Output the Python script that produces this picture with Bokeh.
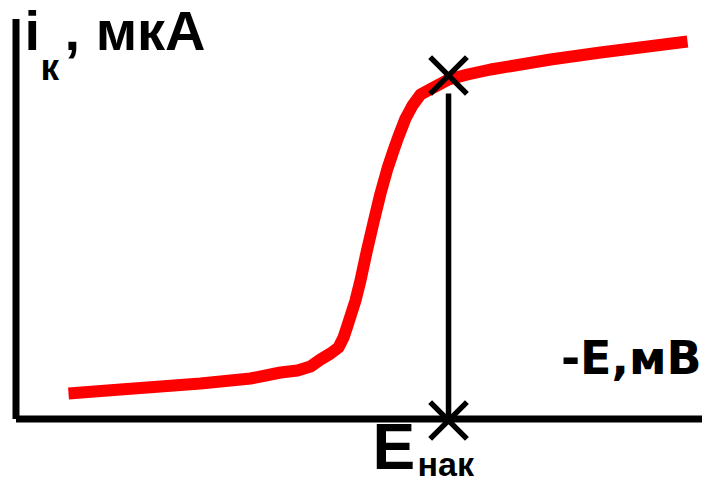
from bokeh.plotting import figure
from bokeh.models import Range1d, Label
from bokeh.embed import file_html
from bokeh.resources import INLINE

# Polarographic wave (arbitrary units: potential -E, current i)
potential = [7.50, 14.93, 26.36, 33.50, 37.79, 40.21, 42.07, 43.50, 44.93, 46.07,
             46.79, 47.36, 48.50, 49.21, 50.07, 51.07, 52.07, 53.07, 53.93, 54.64,
             55.64, 56.64, 57.79, 59.64, 61.79, 64.50, 67.79, 76.36, 83.50, 95.93]
current = [6.375, 7.375, 8.875, 10.125, 11.625, 12.125, 13.125, 14.875, 16.375, 17.875,
           20.375, 23.375, 29.625, 34.625, 41.625, 49.125, 56.375, 62.625, 67.125, 70.625,
           75.125, 78.375, 81.125, 82.875, 84.875, 86.125, 87.375, 89.875, 91.625, 94.375]

# Accumulation potential marker
e_nak = 61.79
marker_x = [e_nak, e_nak]
marker_y = [85.875, -0.375]
drop_top = 81.375

axis_top = 100
axis_right = 101

p = figure(width=702, height=482, output_backend="svg", toolbar_location=None,
           x_axis_type=None, y_axis_type=None, min_border=0,
           x_range=Range1d(-2.214, 98.07), y_range=Range1d(-15.875, 104.625))
p.outline_line_color = None
p.xgrid.visible = False
p.ygrid.visible = False
p.background_fill_color = "white"
p.border_fill_color = "white"

# axes lines
p.segment(x0=[0, 0], y0=[0, 0], x1=[0, axis_right], y1=[axis_top, 0],
          line_color="black", line_width=7, line_cap="butt")

# curve
p.line(potential, current, line_color="#ff0000", line_width=12,
       line_cap="butt", line_join="round")

# vertical drop line
p.segment(x0=[e_nak], y0=[0], x1=[e_nak], y1=[drop_top],
          line_color="black", line_width=5.5, line_cap="butt")

# X markers
p.scatter(marker_x, marker_y, marker="x", size=52, line_color="black", line_width=5.5)

font = "Liberation Sans"
def lab(x, y, t, size, f=font, align="left"):
    p.add_layout(Label(x=x, y=y, text=t, text_font=f, text_font_style="bold",
                       text_font_size=size, text_color="black",
                       text_align=align, text_baseline="middle"))

lab(1.21, 97.2, "i", "56px")
lab(3.50, 87.8, "к", "37px")
lab(6.93, 97.2, ", мкА", "56px")
lab(87.9, 15.3, "-E,мВ", "46px", f="DejaVu Sans", align="center")
lab(50.93, -6.875, "E", "64px")
lab(57.36, -11.125, "нак", "34px")

open("out.html", "w").write(file_html(p, INLINE))
